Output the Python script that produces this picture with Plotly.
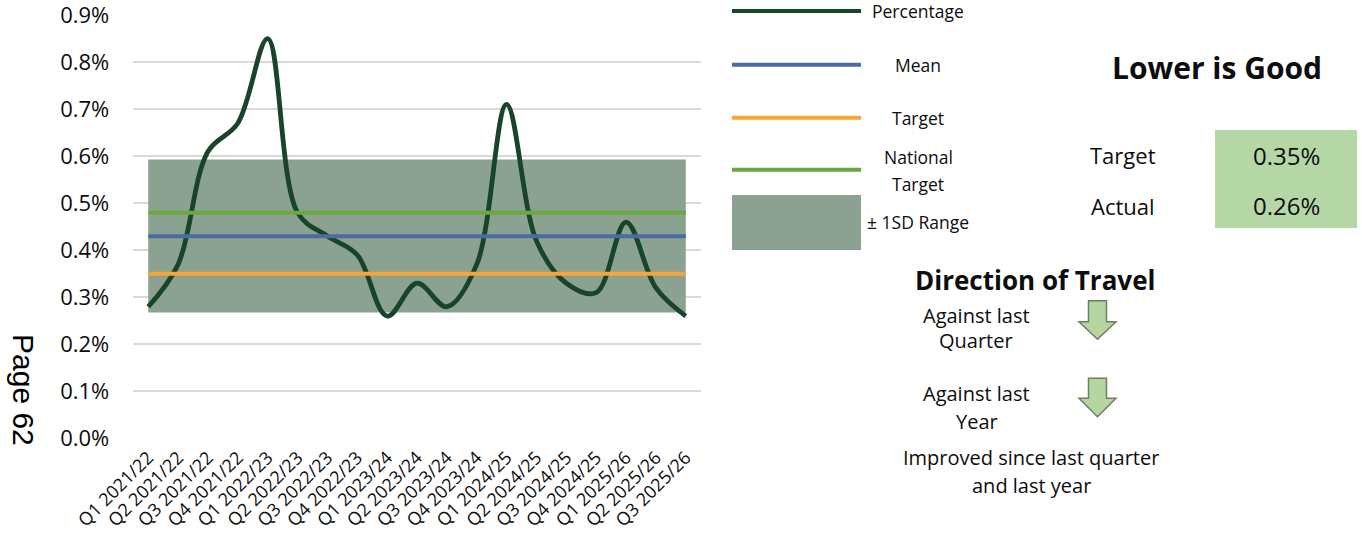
import plotly.graph_objects as go

# ---- data -------------------------------------------------------------
quarters = [
    "Q1 2021/22", "Q2 2021/22", "Q3 2021/22", "Q4 2021/22",
    "Q1 2022/23", "Q2 2022/23", "Q3 2022/23", "Q4 2022/23",
    "Q1 2023/24", "Q2 2023/24", "Q3 2023/24", "Q4 2023/24",
    "Q1 2024/25", "Q2 2024/25", "Q3 2024/25", "Q4 2024/25",
    "Q1 2025/26", "Q2 2025/26", "Q3 2025/26",
]
percentage = [0.28, 0.37, 0.61, 0.67, 0.85, 0.48, 0.43, 0.39, 0.26, 0.33,
              0.28, 0.37, 0.71, 0.42, 0.33, 0.31, 0.46, 0.32, 0.26]
mean_value = 0.43
target_value = 0.35
national_target = 0.48
sd_upper = 0.593
sd_lower = 0.268
y_ticks = [0.0, 0.1, 0.2, 0.3, 0.4, 0.5, 0.6, 0.7, 0.8, 0.9]

# ---- page geometry (pixels) ------------------------------------------
W, H = 1362, 541
PLOT_L, PLOT_R, PLOT_T, PLOT_B = 133.3, 700.7, 15.0, 438.5


def fx(px):
    return px / W


def fy(py):
    return 1 - py / H


FONT = "Open Sans"
TEXT = "#0d0d0d"

C_PCT = "#18452A"
C_MEAN = "#4A6CA3"
C_TARGET = "#F9A535"
C_NAT = "#6AA842"
C_BAND = "#8BA192"
C_BOX = "#B5D7A6"
C_ARROW = "#B5D69F"

n = len(quarters)
fig = go.Figure()

# ±1 SD band
fig.add_trace(go.Scatter(x=quarters, y=[sd_upper] * n, mode="lines",
                         line=dict(width=0, color=C_BAND), hoverinfo="skip"))
fig.add_trace(go.Scatter(x=quarters, y=[sd_lower] * n, mode="lines",
                         line=dict(width=0, color=C_BAND), fill="tonexty",
                         fillcolor=C_BAND, hoverinfo="skip"))

# quarterly percentage (smoothed)
fig.add_trace(go.Scatter(x=quarters, y=percentage, mode="lines",
                         line=dict(color=C_PCT, width=4.8, shape="spline",
                                   smoothing=1.0)))

# reference lines
for val, col in [(mean_value, C_MEAN), (target_value, C_TARGET),
                 (national_target, C_NAT)]:
    fig.add_trace(go.Scatter(x=quarters, y=[val] * n, mode="lines",
                             line=dict(color=col, width=4)))

shapes = []
annotations = []


def label(text, x, y, size, bold=False, family=FONT, angle=0, color=TEXT):
    if bold:
        text = "<b>" + text + "</b>"
    annotations.append(dict(text=text, x=fx(x), y=fy(y), xref="paper",
                            yref="paper", xanchor="center", yanchor="middle",
                            showarrow=False, textangle=angle, borderpad=0,
                            font=dict(family=family, size=size, color=color)))


# legend
LEG_X0, LEG_X1, LEG_TX = 732, 861, 918
LEG_FS = 17.5
for y, col, name in [(11, C_PCT, "Percentage"), (64.7, C_MEAN, "Mean"),
                     (117.7, C_TARGET, "Target")]:
    shapes.append(dict(type="line", xref="paper", yref="paper",
                       x0=fx(LEG_X0), x1=fx(LEG_X1), y0=fy(y), y1=fy(y),
                       line=dict(color=col, width=4)))
    label(name, LEG_TX, y, LEG_FS)
shapes.append(dict(type="line", xref="paper", yref="paper",
                   x0=fx(LEG_X0), x1=fx(LEG_X1), y0=fy(169.7), y1=fy(169.7),
                   line=dict(color=C_NAT, width=4)))
label("National", LEG_TX, 157, LEG_FS)
label("Target", LEG_TX, 184, LEG_FS)
shapes.append(dict(type="rect", xref="paper", yref="paper",
                   x0=fx(LEG_X0), x1=fx(LEG_X1), y0=fy(250), y1=fy(195),
                   fillcolor=C_BAND, line=dict(width=0)))
label("± 1SD Range", LEG_TX, 221.7, LEG_FS)

# summary panel
label("Lower is Good", 1216.5, 67, 30, bold=True)
shapes.append(dict(type="rect", xref="paper", yref="paper",
                   x0=fx(1215), x1=fx(1357), y0=fy(228), y1=fy(130),
                   fillcolor=C_BOX, line=dict(width=0)))
label("Target", 1123, 155, 22)
label("Actual", 1123, 206, 22)
label(f"{target_value:.2f}%", 1286, 155, 24)
label(f"{percentage[-1]:.2f}%", 1286, 206, 24)

# direction of travel
label("Direction of Travel", 1035, 280, 26, bold=True)
label("Against last", 976, 315, 20)
label("Quarter", 976, 340, 20)
label("Against last", 976, 393, 20)
label("Year", 977, 421, 20)
label("Improved since last quarter", 1031, 458, 20)
label("and last year", 1031, 485, 20)


def down_arrow(top, base, tip, cx=1097.5, shaft=9, head=18.5):
    pts = [(cx - shaft, top), (cx + shaft, top), (cx + shaft, base),
           (cx + head, base), (cx, tip), (cx - head, base),
           (cx - shaft, base)]
    path = "M " + " L ".join(f"{fx(x):.5f},{fy(y):.5f}" for x, y in pts) + " Z"
    return dict(type="path", xref="paper", yref="paper", path=path,
                fillcolor=C_ARROW, line=dict(color="#6E7D69", width=1.5))


shapes.append(down_arrow(300.7, 321.7, 339.3))
shapes.append(down_arrow(378.3, 398.3, 416.7))

# page marker
label("Page 62", 24, 390, 30, family="Liberation Sans", angle=90,
      color="#000000")

fig.update_layout(
    width=W, height=H,
    margin=dict(l=0, r=0, t=0, b=0, autoexpand=False),
    paper_bgcolor="white", plot_bgcolor="white",
    showlegend=False,
    shapes=shapes, annotations=annotations,
    xaxis=dict(domain=[fx(PLOT_L), fx(PLOT_R)], range=[-0.5, n - 0.5],
               type="category", showgrid=False, zeroline=False,
               showline=False, tickangle=-45, ticks="", automargin=False,
               ticklabelstandoff=4, ticklabeloverflow="allow",
               tickfont=dict(family=FONT, size=18, color=TEXT)),
    yaxis=dict(domain=[fy(PLOT_B), fy(PLOT_T)], range=[0, 0.9],
               tickvals=y_ticks, ticktext=[f"{v:.1f}%" for v in y_ticks],
               showgrid=True, gridcolor="#D9D9D9", gridwidth=1.5,
               zeroline=False, showline=False, ticks="", automargin=False,
               ticklabelstandoff=23, ticklabeloverflow="allow",
               tickfont=dict(family=FONT, size=22, color=TEXT)),
)

fig.write_html("out.html")
